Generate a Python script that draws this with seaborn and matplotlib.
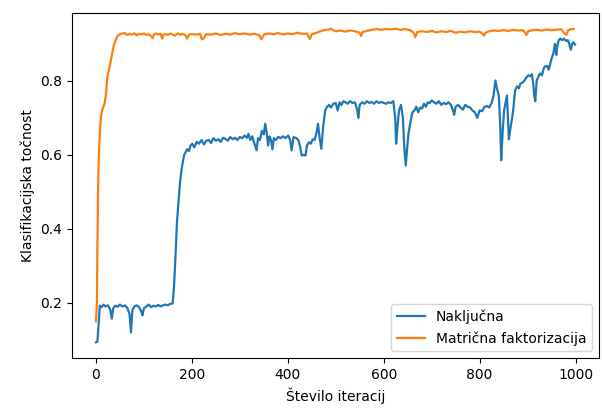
import matplotlib
matplotlib.use("Agg")
import matplotlib.pyplot as plt
import seaborn as sns
import pandas as pd

# Naključna (blue) - iteration, accuracy
rand_iter = [0, 3, 6, 8, 12, 16, 20, 25, 30, 33, 36, 40, 45, 50, 55, 60, 65, 70, 73, 76,
             80, 85, 90, 95, 97, 100, 105, 110, 115, 120, 125, 130, 135, 140, 145, 150, 155, 160, 163, 166,
             169, 172, 175, 178, 181, 184, 187, 190, 194, 197, 201, 205, 210, 215, 220, 225, 230, 235, 240, 245,
             250, 255, 260, 265, 270, 275, 280, 285, 290, 295, 300, 305, 310, 315, 318, 322, 326, 330, 335, 338,
             342, 346, 350, 353, 356, 359, 362, 365, 368, 371, 375, 380, 385, 390, 395, 401, 405, 408, 412, 418,
             422, 426, 429, 433, 437, 440, 444, 448, 452, 456, 460, 463, 466, 470, 474, 478, 482, 486, 490, 495,
             500, 504, 508, 512, 516, 520, 525, 530, 535, 540, 545, 547, 550, 555, 560, 565, 570, 575, 580, 585,
             590, 595, 600, 605, 610, 615, 620, 624, 626, 629, 632, 636, 640, 643, 646, 649, 652, 656, 660, 664,
             668, 672, 676, 680, 684, 688, 692, 696, 700, 705, 710, 715, 720, 725, 730, 735, 740, 744, 747, 750,
             755, 760, 765, 770, 775, 780, 785, 790, 795, 800, 805, 810, 815, 820, 825, 829, 833, 836, 840, 843,
             845, 848, 851, 854, 857, 859, 861, 864, 867, 870, 874, 878, 882, 885, 889, 893, 898, 902, 906, 909,
             912, 914, 916, 919, 922, 926, 930, 934, 938, 941, 944, 947, 950, 954, 957, 960, 962, 965, 968, 972,
             976, 980, 984, 987, 990, 993, 996, 999]
rand_acc = [0.093, 0.095, 0.150, 0.192, 0.188, 0.195, 0.190, 0.193, 0.180, 0.157, 0.185, 0.192, 0.189, 0.195, 0.190, 0.193, 0.187, 0.170, 0.120, 0.180,
            0.190, 0.193, 0.188, 0.175, 0.166, 0.185, 0.190, 0.195, 0.188, 0.192, 0.190, 0.194, 0.190, 0.193, 0.195, 0.193, 0.197, 0.198, 0.250, 0.330,
            0.420, 0.470, 0.520, 0.555, 0.580, 0.600, 0.607, 0.615, 0.610, 0.625, 0.630, 0.620, 0.635, 0.630, 0.640, 0.628, 0.638, 0.640, 0.632, 0.645,
            0.638, 0.642, 0.635, 0.646, 0.643, 0.638, 0.648, 0.642, 0.646, 0.640, 0.648, 0.645, 0.652, 0.646, 0.657, 0.640, 0.650, 0.632, 0.612, 0.645,
            0.640, 0.665, 0.655, 0.684, 0.660, 0.625, 0.650, 0.640, 0.615, 0.645, 0.640, 0.648, 0.645, 0.650, 0.645, 0.652, 0.640, 0.612, 0.648, 0.645,
            0.640, 0.620, 0.598, 0.600, 0.598, 0.625, 0.634, 0.630, 0.642, 0.640, 0.660, 0.684, 0.650, 0.616, 0.680, 0.720, 0.730, 0.735, 0.728, 0.738,
            0.740, 0.720, 0.742, 0.735, 0.745, 0.742, 0.738, 0.745, 0.740, 0.742, 0.720, 0.700, 0.735, 0.742, 0.738, 0.745, 0.740, 0.743, 0.738, 0.745,
            0.740, 0.743, 0.740, 0.738, 0.742, 0.740, 0.745, 0.700, 0.630, 0.680, 0.720, 0.735, 0.700, 0.620, 0.571, 0.620, 0.660, 0.690, 0.715, 0.720,
            0.730, 0.715, 0.728, 0.725, 0.738, 0.730, 0.742, 0.740, 0.747, 0.742, 0.738, 0.745, 0.735, 0.740, 0.737, 0.742, 0.735, 0.722, 0.708, 0.730,
            0.735, 0.728, 0.722, 0.735, 0.730, 0.728, 0.720, 0.715, 0.700, 0.720, 0.718, 0.729, 0.732, 0.728, 0.740, 0.760, 0.801, 0.780, 0.760, 0.680,
            0.585, 0.660, 0.720, 0.740, 0.760, 0.700, 0.642, 0.670, 0.693, 0.720, 0.774, 0.785, 0.780, 0.792, 0.795, 0.800, 0.810, 0.815, 0.812, 0.818,
            0.790, 0.760, 0.745, 0.800, 0.810, 0.820, 0.815, 0.835, 0.840, 0.840, 0.830, 0.845, 0.860, 0.875, 0.900, 0.870, 0.895, 0.910, 0.914, 0.910,
            0.914, 0.908, 0.910, 0.900, 0.884, 0.900, 0.904, 0.898]

# Matrična faktorizacija (orange)
mf_iter = [0, 2, 3, 4, 5, 7, 9, 11, 14, 18, 21, 23, 25, 28, 31, 34, 38, 42, 45, 50,
           55, 60, 65, 70, 75, 80, 85, 90, 95, 100, 105, 110, 115, 118, 121, 125, 130, 135, 138, 141,
           145, 150, 155, 160, 165, 168, 172, 176, 180, 186, 190, 194, 200, 210, 217, 221, 225, 230, 240, 250,
           260, 270, 280, 290, 300, 310, 320, 330, 340, 345, 350, 360, 370, 380, 390, 400, 410, 420, 430, 440,
           446, 450, 460, 470, 480, 490, 500, 510, 520, 530, 540, 550, 553, 556, 565, 575, 585, 595, 605, 615,
           625, 635, 645, 655, 662, 666, 670, 680, 690, 700, 710, 720, 730, 740, 750, 760, 770, 780, 790, 800,
           806, 809, 812, 820, 830, 840, 850, 860, 870, 880, 890, 895, 898, 901, 910, 920, 930, 940, 950, 960,
           970, 977, 981, 984, 990, 996]
mf_acc = [0.150, 0.200, 0.350, 0.450, 0.550, 0.630, 0.680, 0.710, 0.725, 0.738, 0.765, 0.800, 0.819, 0.835, 0.855, 0.875, 0.900, 0.912, 0.922, 0.926,
          0.928, 0.929, 0.924, 0.927, 0.925, 0.928, 0.923, 0.927, 0.925, 0.928, 0.924, 0.926, 0.921, 0.915, 0.925, 0.928, 0.925, 0.927, 0.914, 0.925,
          0.926, 0.924, 0.928, 0.925, 0.922, 0.926, 0.928, 0.924, 0.927, 0.924, 0.914, 0.925, 0.926, 0.925, 0.927, 0.912, 0.916, 0.926, 0.925, 0.928,
          0.924, 0.927, 0.925, 0.929, 0.926, 0.928, 0.925, 0.927, 0.924, 0.912, 0.925, 0.928, 0.926, 0.929, 0.925, 0.928, 0.926, 0.930, 0.927, 0.928,
          0.913, 0.926, 0.930, 0.935, 0.938, 0.940, 0.934, 0.936, 0.933, 0.936, 0.934, 0.930, 0.921, 0.932, 0.935, 0.938, 0.940, 0.938, 0.940, 0.939,
          0.941, 0.938, 0.940, 0.937, 0.931, 0.918, 0.932, 0.934, 0.932, 0.935, 0.931, 0.934, 0.932, 0.935, 0.930, 0.933, 0.931, 0.934, 0.932, 0.933,
          0.927, 0.922, 0.930, 0.934, 0.936, 0.935, 0.937, 0.935, 0.938, 0.936, 0.937, 0.930, 0.924, 0.934, 0.937, 0.938, 0.936, 0.939, 0.937, 0.938,
          0.940, 0.928, 0.924, 0.936, 0.940, 0.940]

labels = ["Naključna", "Matrična faktorizacija"]

plt.rcParams["font.family"] = ["DejaVu Sans"]
fig = plt.figure(figsize=(6.02, 4.09), dpi=100)
ax = fig.add_axes([72 / 602, 1 - 358 / 409, (599 - 72) / 602, (358 - 13) / 409])

sns.lineplot(x=rand_iter, y=rand_acc, ax=ax, color="#1f77b4", label=labels[0], linewidth=1.6)
sns.lineplot(x=mf_iter, y=mf_acc, ax=ax, color="#ff7f0e", label=labels[1], linewidth=1.6)

ax.set_xlabel("Število iteracij")
ax.set_ylabel("Klasifikacijska točnost")
ax.set_xticks([0, 200, 400, 600, 800, 1000])
ax.set_yticks([0.2, 0.4, 0.6, 0.8])
ax.legend(loc="lower right")

fig.savefig("out.png", dpi=100)
